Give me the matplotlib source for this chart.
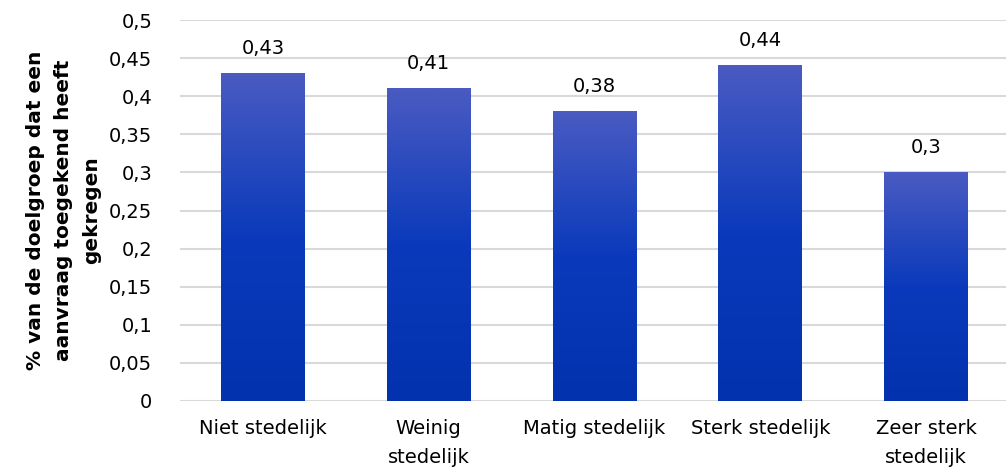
import matplotlib
matplotlib.use("Agg")
import matplotlib.pyplot as plt
import numpy as np
from matplotlib.colors import LinearSegmentedColormap
from matplotlib.ticker import FuncFormatter

categories = ["Niet stedelijk", "Weinig\nstedelijk", "Matig stedelijk", "Sterk stedelijk", "Zeer sterk\nstedelijk"]
values = [0.43, 0.41, 0.38, 0.44, 0.30]
yticks = [0, 0.05, 0.1, 0.15, 0.2, 0.25, 0.3, 0.35, 0.4, 0.45, 0.5]
ylabel = "% van de doelgroep dat een\naanvraag toegekend heeft\ngekregen"

plt.rcParams['font.family'] = ['DejaVu Sans']

fig = plt.figure(figsize=(10.06, 4.71), dpi=100)
ax = fig.add_axes([180/1006, 70/471, 829/1006, 381/471])

cmap = LinearSegmentedColormap.from_list("g", [(0, "#0332ae"), (0.5, "#0a3abb"), (1.0, "#4a5bc2")])
grad = np.linspace(0, 1, 256).reshape(-1, 1)
width = 0.506
x = np.arange(len(categories))
bars = ax.bar(x, values, width=width, color="none", zorder=3)
for b, v in zip(bars, values):
    x0 = b.get_x()
    ax.imshow(grad, extent=[x0, x0 + width, 0, v], origin="lower", cmap=cmap,
              aspect="auto", zorder=3, interpolation="bilinear")
    ax.text(b.get_x() + width/2, v + 0.02, f"{v:g}".replace(".", ","),
            ha="center", va="bottom", fontsize=14, color="#000000", zorder=4)

ax.set_xlim(-0.5, len(categories) - 0.5)
ax.set_ylim(0, 0.5)
ax.set_yticks(yticks)
ax.yaxis.set_major_formatter(FuncFormatter(lambda v, p: f"{v:g}".replace(".", ",")))
ax.set_xticks(x)
ax.set_xticklabels(categories, fontsize=14, linespacing=1.65)
ax.tick_params(axis="y", labelsize=14, length=0, pad=20)
ax.tick_params(axis="x", length=0, pad=13)
ax.grid(axis="y", color="#d9d9d9", linewidth=1.5, zorder=0)
for s in ax.spines.values():
    s.set_visible(False)
ax.set_ylabel(ylabel, fontsize=14.5, fontweight="bold", linespacing=1.6, labelpad=6,
              multialignment="center")

fig.savefig("out.png", dpi=100)
